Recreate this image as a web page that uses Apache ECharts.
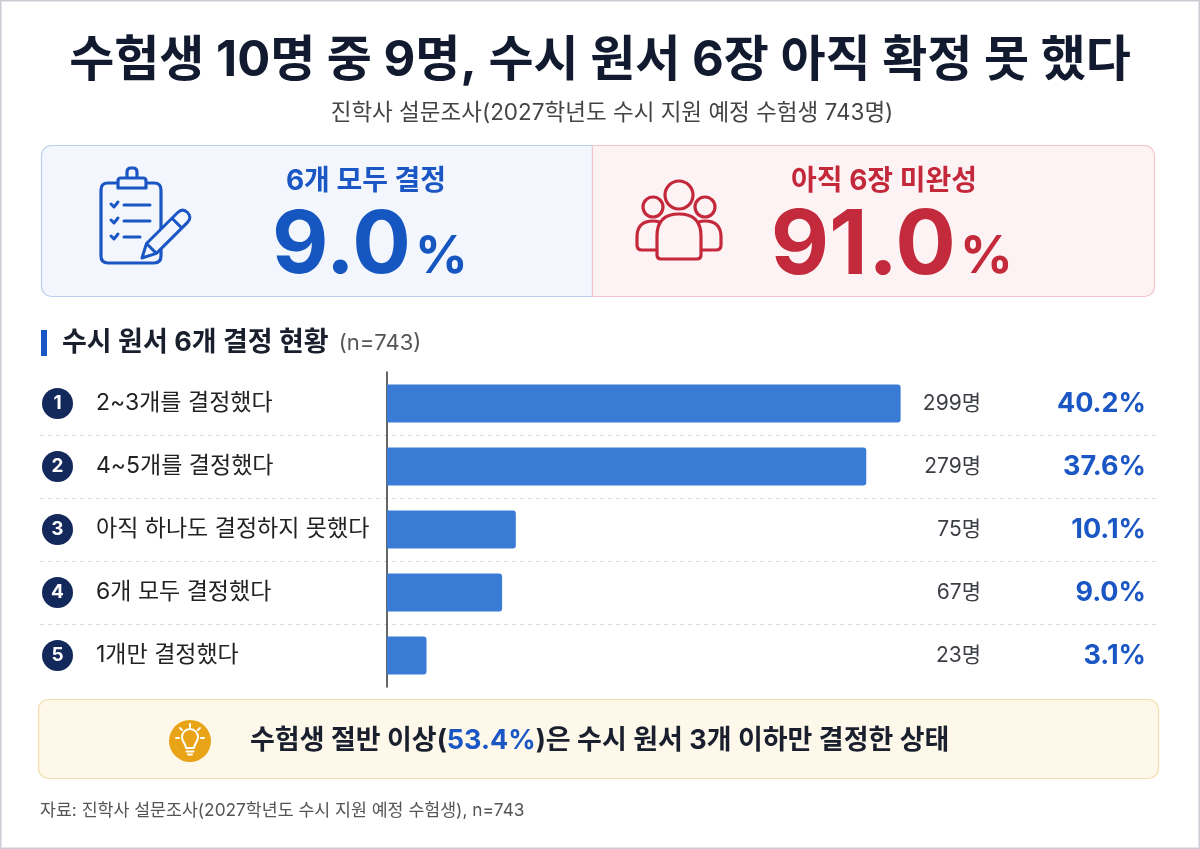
<!DOCTYPE html>
<html lang="ko">
<head>
<meta charset="utf-8">
<title>수시 원서 6개 결정 현황</title>
<script src="https://cdn.jsdelivr.net/npm/echarts@6/dist/echarts.min.js"></script>
<style>
  html, body { margin: 0; padding: 0; background: #fff; }
  #main { width: 1200px; height: 849px; }
</style>
</head>
<body>
<div id="main"></div>
<script>
// 데이터
var categories = ['2~3개를 결정했다', '4~5개를 결정했다', '아직 하나도 결정하지 못했다', '6개 모두 결정했다', '1개만 결정했다'];
var counts = [299, 279, 75, 67, 23];
var shares = [40.2, 37.6, 10.1, 9.0, 3.1];
var cardLabels = ['6개 모두 결정', '아직 6장 미완성'];
var cardValues = [9.0, 91.0];
var halfShare = 53.4;
var sampleSize = 743;

var FONT = 'Inter, "Noto Sans CJK KR", sans-serif';
var BLUE = '#1a56c4';
var RED = '#c4283b';

function font(weight, size) {
    return weight + ' ' + size + 'px ' + FONT;
}

// 아이콘용 path 도형 등록
function regPath(name, d) {
    echarts.graphic.registerShape(name, echarts.graphic.extendPath(d, {}));
}
regPath('clipBoard', 'M108,183 L154,183 Q161,183 161,190 L161,256 Q161,263 154,263 L108,263 Q101,263 101,256 L101,190 Q101,183 108,183 Z');
regPath('clipTop', 'M121,178 L143,178 Q146,178 146,181 L146,188 L118,188 L118,181 Q118,178 121,178 Z M127,178 L127,172 Q127,168 131,168 L133,168 Q137,168 137,172 L137,178');
regPath('clipList', 'M111,204 L114,207 L118,202 M111,220 L114,223 L118,218 M111,236 L114,239 L118,234 M124,205 L150,205 M124,221 L150,221 M124,237 L140,237');
regPath('pencil', 'M142,258 L146.5,243.5 L177.7,212.5 Q182.6,207.6 187.5,212.5 Q192.4,217.4 187.5,222.4 L156.4,253.4 Z M146.5,243.5 L156.4,253.4 M172,218.2 L181.9,228.1');
regPath('sideBodies', 'M657,250 L642,250 Q637,250 637,245 L637,237 Q637,221 653,221 Q660,221 664,225 M701,250 L716,250 Q721,250 721,245 L721,237 Q721,221 705,221 Q698,221 694,225');
regPath('mainBody', 'M661,259 Q657,259 657,255 L657,236 Q657,214 679,214 Q701,214 701,236 L701,255 Q701,259 697,259 Z');
regPath('bulb', 'M186,748 C186,744 182,742 182,737 A8,8 0 1 1 198,737 C198,742 194,744 194,748 Z M186.5,751.5 L193.5,751.5 M188,754.5 L192,754.5 ' +
    'M190,724 L190,727 M180,728 L182,730 M200,728 L198,730 M176,738 L179,738 M201,738 L204,738');

var myChart = echarts.init(document.getElementById('main'));

// 상단 카드, 아이콘, 안내 박스 등 장식 요소
var graphics = [
    // 페이지 테두리
    {type: 'rect', shape: {x: 0.75, y: 0.75, width: 1198.5, height: 847.5}, style: {fill: 'none', stroke: '#c9cdd3', lineWidth: 1.5}, silent: true},
    // 제목
    {type: 'text', x: 600, y: 61, style: {text: '수험생 10명 중 9명, 수시 원서 6장 아직 확정 못 했다', font: font('bold', 49), fill: '#111a2e', align: 'center', verticalAlign: 'middle'}},
    {type: 'text', x: 612, y: 113, style: {text: '진학사 설문조사(2027학년도 수시 지원 예정 수험생 ' + sampleSize + '명)', font: font('normal', 22.5), fill: '#444', align: 'center', verticalAlign: 'middle'}},

    // 카드 배경
    {type: 'rect', shape: {x: 41.5, y: 145.5, width: 551, height: 151, r: [10, 0, 0, 10]}, style: {fill: '#f3f7fd', stroke: '#bad0ee', lineWidth: 1.2}},
    {type: 'rect', shape: {x: 592.5, y: 145.5, width: 562, height: 151, r: [0, 10, 10, 0]}, style: {fill: '#fdf3f4', stroke: '#f1c5c9', lineWidth: 1.2}},

    // 클립보드 아이콘
    {type: 'clipBoard', style: {fill: 'none', stroke: BLUE, lineWidth: 3.2}},
    {type: 'clipTop', style: {fill: '#f3f7fd', stroke: BLUE, lineWidth: 3.2, lineJoin: 'round'}},
    {type: 'clipList', style: {fill: 'none', stroke: BLUE, lineWidth: 3, lineCap: 'round', lineJoin: 'round'}},
    {type: 'pencil', style: {fill: '#f3f7fd', stroke: BLUE, lineWidth: 3, lineJoin: 'round'}},

    // 사람 아이콘
    {type: 'sideBodies', style: {fill: 'none', stroke: RED, lineWidth: 3.2, lineJoin: 'round', lineCap: 'round'}},
    {type: 'circle', shape: {cx: 653, cy: 207, r: 10}, style: {fill: '#fdf3f4', stroke: RED, lineWidth: 3.2}},
    {type: 'circle', shape: {cx: 705, cy: 207, r: 10}, style: {fill: '#fdf3f4', stroke: RED, lineWidth: 3.2}},
    {type: 'mainBody', style: {fill: '#fdf3f4', stroke: RED, lineWidth: 3.2, lineJoin: 'round'}},
    {type: 'circle', shape: {cx: 679, cy: 195, r: 14}, style: {fill: '#fdf3f4', stroke: RED, lineWidth: 3.2}},

    // 카드 텍스트
    {type: 'text', x: 366, y: 182, style: {text: cardLabels[0], font: font('bold', 28), fill: BLUE, align: 'center', verticalAlign: 'middle'}},
    {type: 'text', x: 411, y: 247, style: {text: cardValues[0].toFixed(1), font: font('bold', 87), fill: '#1556c0', align: 'right', verticalAlign: 'middle'}},
    {type: 'text', x: 415, y: 257, style: {text: '%', font: font('bold', 52), fill: '#1556c0', align: 'left', verticalAlign: 'middle'}},
    {type: 'text', x: 884, y: 182, style: {text: cardLabels[1], font: font('bold', 28), fill: RED, align: 'center', verticalAlign: 'middle'}},
    {type: 'text', x: 956, y: 247, style: {text: cardValues[1].toFixed(1), font: font('bold', 90), fill: '#c32a3c', align: 'right', verticalAlign: 'middle'}},
    {type: 'text', x: 960, y: 257, style: {text: '%', font: font('bold', 52), fill: '#c32a3c', align: 'left', verticalAlign: 'middle'}},

    // 섹션 제목
    {type: 'rect', shape: {x: 41, y: 330, width: 6, height: 26}, style: {fill: BLUE}},
    {type: 'text', x: 62, y: 343, style: {
        text: '{a|수시 원서 6개 결정 현황}{b|(n=' + sampleSize + ')}',
        verticalAlign: 'middle',
        rich: {
            a: {fontSize: 27, fontWeight: 'bold', fontFamily: FONT, fill: '#1a1f2e'},
            b: {fontSize: 22, fontWeight: 'normal', fontFamily: FONT, fill: '#555', padding: [0, 0, 0, 10]}
        }
    }},

    // 안내 박스
    {type: 'rect', shape: {x: 38.5, y: 699.5, width: 1120, height: 79, r: 10}, style: {fill: '#fdf8ea', stroke: '#f2dcab', lineWidth: 1.2}},
    {type: 'circle', shape: {cx: 190, cy: 741, r: 21}, style: {fill: '#e9a316'}},
    {type: 'bulb', style: {fill: 'none', stroke: '#fff', lineWidth: 2, lineCap: 'round', lineJoin: 'round'}},
    {type: 'text', x: 250, y: 741, style: {
        text: '{a|수험생 절반 이상(}{b|' + halfShare.toFixed(1) + '%}{a|)은 수시 원서 3개 이하만 결정한 상태}',
        verticalAlign: 'middle',
        rich: {
            a: {fontSize: 27, fontWeight: 'bold', fontFamily: FONT, fill: '#1a1f2e'},
            b: {fontSize: 27, fontWeight: 'bold', fontFamily: FONT, fill: BLUE}
        }
    }},

    // 출처
    {type: 'text', x: 40, y: 811, style: {text: '자료: 진학사 설문조사(2027학년도 수시 지원 예정 수험생), n=' + sampleSize, font: font('normal', 17.3), fill: '#555', verticalAlign: 'middle'}}
];

var option = {
    animation: false,
    backgroundColor: '#fff',
    textStyle: {fontFamily: FONT},
    graphic: graphics,
    grid: {
        left: 40,
        right: 40,
        top: 372,
        height: 315,
        outerBoundsMode: 'none'
    },
    xAxis: {
        type: 'value',
        min: -202,
        max: 450,
        show: false
    },
    yAxis: [{
        // 0 위치의 세로 기준선과 점선 구분선
        type: 'category',
        inverse: true,
        data: categories,
        axisLine: {show: true, onZero: true, lineStyle: {color: '#333', width: 1.5}},
        axisTick: {show: false},
        axisLabel: {show: false},
        splitLine: {
            show: true,
            showMinLine: false,
            showMaxLine: false,
            lineStyle: {color: '#d8dce2', type: [4, 4], width: 1}
        }
    }, {
        // 오른쪽: 응답자 수와 비율
        type: 'category',
        inverse: true,
        position: 'right',
        data: categories,
        axisLine: {show: false, onZero: false},
        axisTick: {show: false},
        splitLine: {show: false},
        axisLabel: {
            inside: true,
            align: 'right',
            margin: 14,
            formatter: function (value, index) {
                return '{c|' + counts[index] + '명}{p|' + shares[index].toFixed(1) + '%}';
            },
            rich: {
                c: {width: 100, align: 'right', fontSize: 21, color: '#3c3f45', fontFamily: FONT},
                p: {width: 165, align: 'right', fontSize: 27, fontWeight: 'bold', color: BLUE, fontFamily: FONT}
            }
        }
    }, {
        // 왼쪽: 번호와 항목 이름
        type: 'category',
        inverse: true,
        position: 'left',
        data: categories,
        axisLine: {show: false, onZero: false},
        axisTick: {show: false},
        splitLine: {show: false},
        axisLabel: {
            inside: true,
            align: 'left',
            margin: 2,
            formatter: function (value, index) {
                return '{n|' + (index + 1) + '}{t|' + value + '}';
            },
            rich: {
                n: {width: 31, height: 31, borderRadius: 15.5, backgroundColor: '#13295b', color: '#fff', fontSize: 19, fontWeight: 'bold', fontFamily: FONT, align: 'center'},
                t: {fontSize: 23, color: '#222', fontFamily: FONT, padding: [0, 0, 0, 23]}
            }
        }
    }],
    series: [{
        type: 'bar',
        yAxisIndex: 0,
        data: counts,
        barWidth: 38,
        itemStyle: {color: '#3a7bd6', borderRadius: [0, 3, 3, 0]},
        silent: true
    }]
};

myChart.setOption(option);
</script>
</body>
</html>
